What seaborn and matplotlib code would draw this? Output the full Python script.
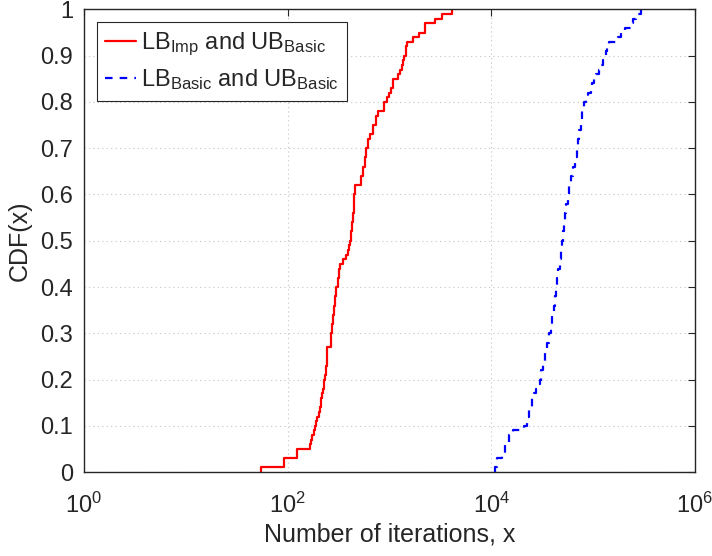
import numpy as np
import pandas as pd
import matplotlib
matplotlib.use("Agg")
import matplotlib.pyplot as plt
import seaborn as sns
from matplotlib.ticker import FixedLocator, NullLocator, FixedFormatter

# Iteration counts per instance (distinct value, number of instances)
imp_values = [55, 93, 124, 165, 170, 175, 180, 185, 190, 196, 201, 206, 211, 215,
              219, 222, 226, 229, 233, 237, 241, 245, 268, 275, 281, 287, 293, 300,
              310, 320, 329, 350, 375, 390, 400, 413, 420, 428, 436, 444, 452, 457,
              530, 550, 570, 593, 610, 650, 695, 735, 778, 890, 940, 990, 1040, 1093,
              1224, 1270, 1320, 1360, 1403, 1450, 1500, 1718, 1968, 2254, 2827, 3313,
              4154]
imp_counts = [1, 2, 2, 1, 1, 1, 1, 1, 1, 1, 1, 1, 1, 1,
              1, 1, 1, 1, 1, 2, 2, 2, 3, 2, 2, 2, 2, 2,
              2, 2, 1, 1, 1, 1, 1, 1, 2, 2, 2, 2, 2, 2,
              2, 2, 2, 2, 2, 1, 2, 2, 1, 2, 1, 1, 1, 2,
              1, 1, 1, 1, 1, 2, 1, 1, 1, 2, 1, 1,
              1]

basic_values = [10800, 11500, 12800, 13700, 14800, 16300, 21000, 22200, 23500, 25000,
                26000, 27800, 29000, 29800, 31000, 32500, 34000, 35500, 37300, 38500,
                39800, 41000, 42300, 43700, 44700, 45700, 46800, 47900, 49000, 50300,
                51700, 53100, 54600, 56100, 58500, 61000, 63500, 66000, 68800, 71000,
                73500, 76000, 78500, 80700, 85000, 89000, 94500, 98000, 101000, 108000,
                113000, 118500, 124000, 128000, 132800, 137000, 142000, 174000, 190000,
                204000, 235000, 244500, 262000, 293000]
basic_counts = [1, 2, 1, 2, 2, 1, 1, 2, 2, 2,
                1, 1, 1, 1, 2, 2, 2, 2, 2, 2,
                2, 2, 2, 2, 2, 2, 2, 2, 2, 2,
                2, 2, 2, 2, 2, 2, 2, 2, 2, 2,
                2, 2, 2, 2, 1, 1, 1, 1, 1, 1,
                1, 1, 1, 1, 1, 1, 1, 1, 1,
                1, 1, 1, 1, 1]

series_labels = [r"LB$_{\mathrm{Imp}}$ and UB$_{\mathrm{Basic}}$",
                 r"LB$_{\mathrm{Basic}}$ and UB$_{\mathrm{Basic}}$"]
x_tick_values = [1, 1e2, 1e4, 1e6]
x_tick_labels = [r"$10^{0}$", r"$10^{2}$", r"$10^{4}$", r"$10^{6}$"]
y_tick_values = [0, 0.1, 0.2, 0.3, 0.4, 0.5, 0.6, 0.7, 0.8, 0.9, 1.0]
y_tick_labels = ["0", "0.1", "0.2", "0.3", "0.4", "0.5", "0.6", "0.7", "0.8", "0.9", "1"]

imp = np.repeat(imp_values, imp_counts)
basic = np.repeat(basic_values, basic_counts)

sns.set_style("white")
plt.rcParams["font.family"] = ["Liberation Sans", "DejaVu Sans"]
plt.rcParams["mathtext.fontset"] = "custom"
plt.rcParams["mathtext.rm"] = "Liberation Sans"
plt.rcParams["mathtext.it"] = "Liberation Sans:italic"
plt.rcParams["mathtext.bf"] = "Liberation Sans:bold"

fig = plt.figure(figsize=(7.12, 5.56), dpi=100)
ax = fig.add_axes([0.118, 0.151, 0.858, 0.832])

sns.ecdfplot(x=imp, ax=ax, log_scale=True, color="#ff0000", lw=1.6,
             label=series_labels[0])
sns.ecdfplot(x=basic, ax=ax, log_scale=True, color="#0000ff", lw=1.6,
             dashes=(3.4, 3.2), label=series_labels[1])

ax.set_xlim(1, 1e6)
ax.set_ylim(0, 1)

ax.xaxis.set_major_locator(FixedLocator(x_tick_values))
ax.xaxis.set_major_formatter(FixedFormatter(x_tick_labels))
ax.xaxis.set_minor_locator(NullLocator())
ax.set_yticks(y_tick_values)
ax.set_yticklabels(y_tick_labels)

text_color = "#262626"
ax.tick_params(axis="both", which="major", direction="in", length=5, width=0.8,
               colors=text_color, labelsize=17, top=True, right=True)
ax.tick_params(axis="x", pad=15)
ax.tick_params(axis="y", pad=8)
ax.grid(True, which="major", linestyle=(0, (1, 3)), color="#c4c4c4", lw=0.8)
for s in ax.spines.values():
    s.set_color(text_color)
    s.set_linewidth(1.0)

ax.set_xlabel("Number of iterations, x", fontsize=18, color=text_color, labelpad=3)
ax.set_ylabel("CDF(x)", fontsize=18, color=text_color, labelpad=6)

leg = ax.legend(loc="upper left", bbox_to_anchor=(0.021, 0.972), fontsize=17,
                frameon=True, fancybox=False, framealpha=1, edgecolor=text_color,
                handlelength=1.3, handletextpad=0.2, borderpad=0.35,
                labelspacing=0.4, borderaxespad=0.0)
leg.get_frame().set_linewidth(0.8)

fig.savefig("out.png", dpi=100)
